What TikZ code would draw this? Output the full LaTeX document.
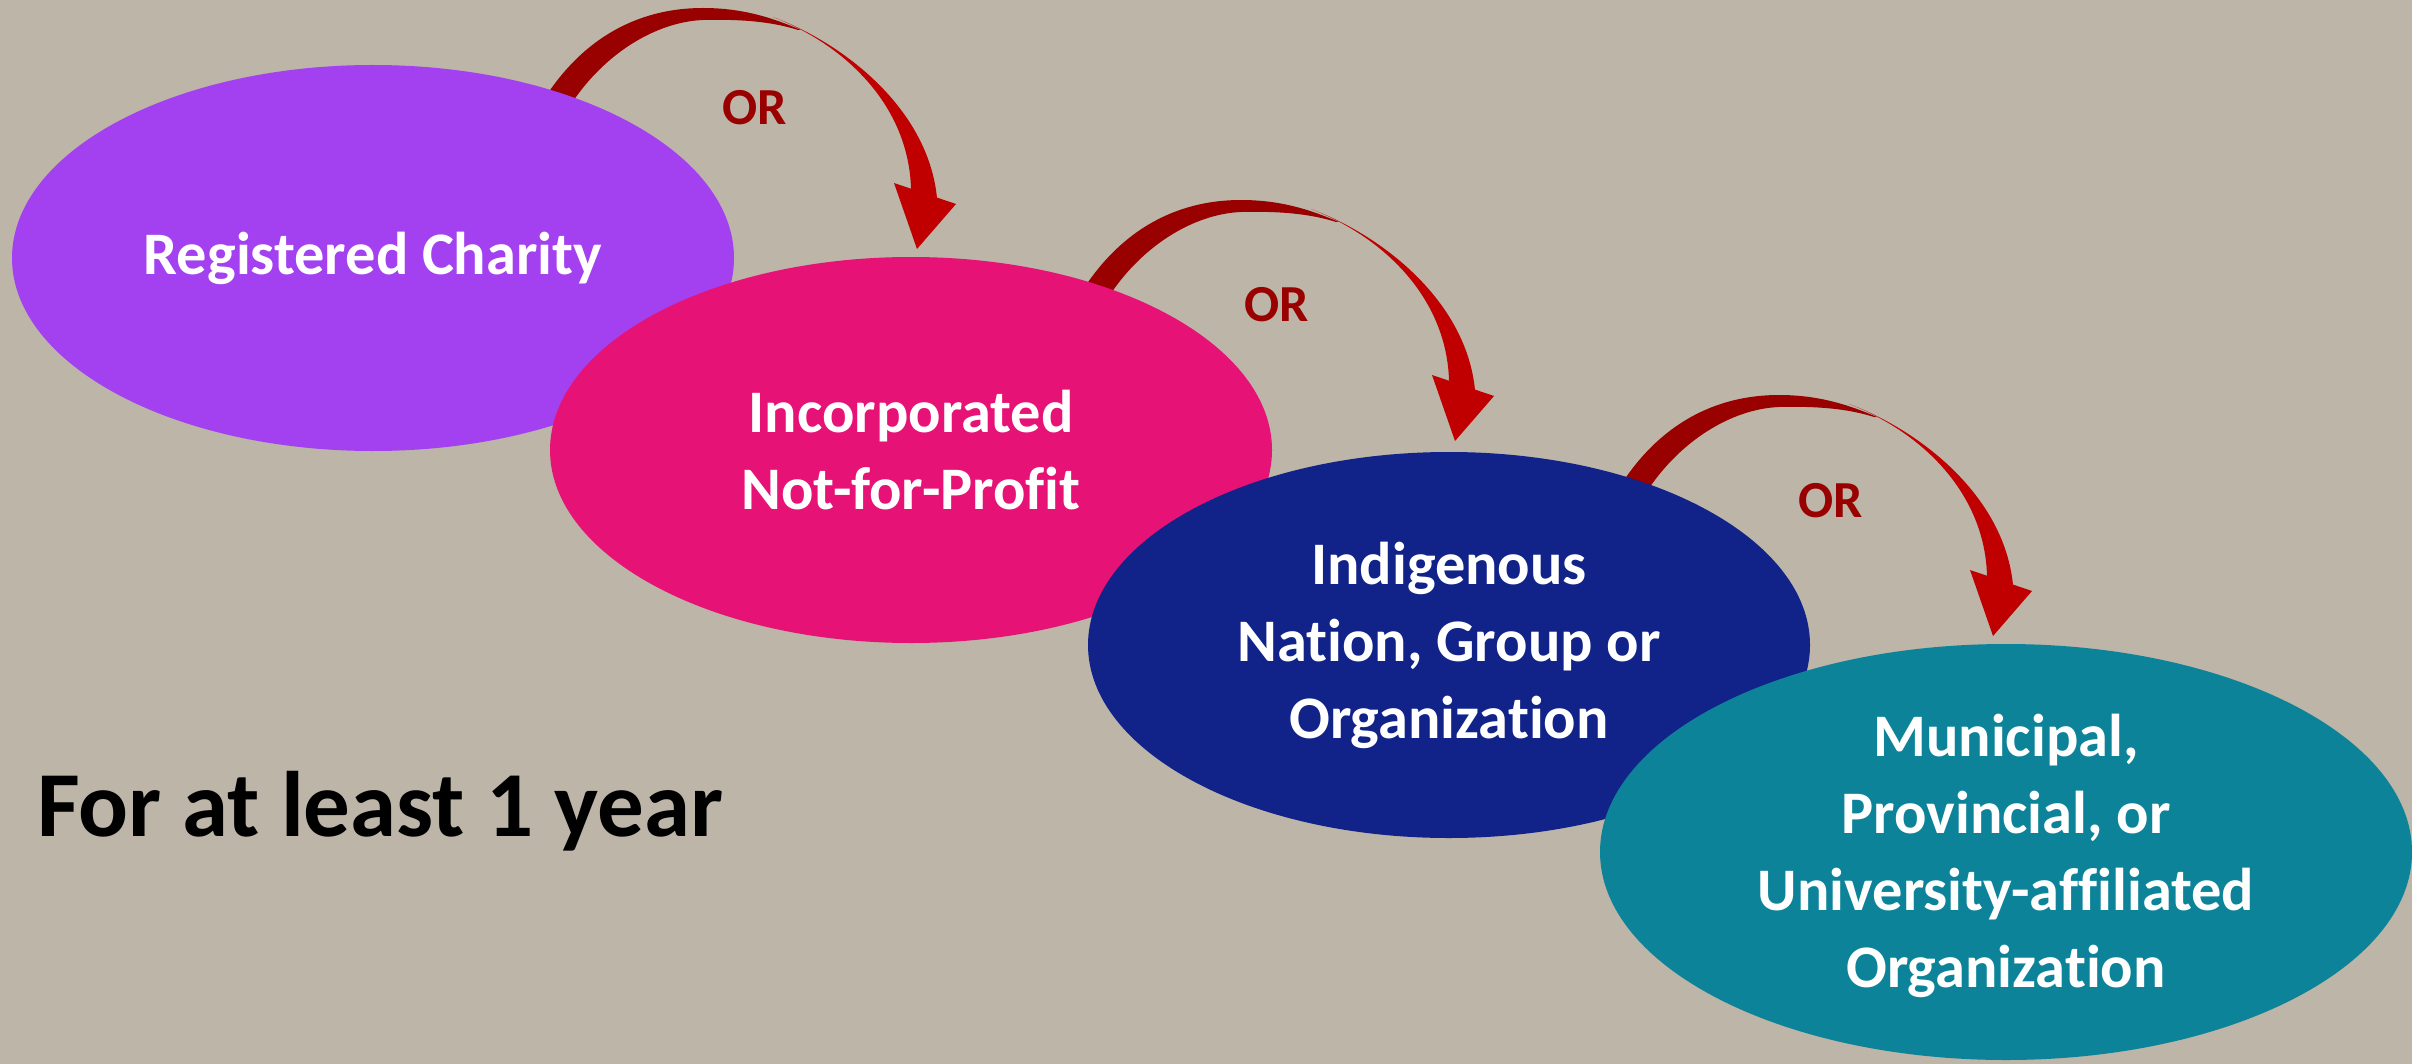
\documentclass[tikz,border=0pt]{standalone}
\usepackage{fontspec}
\setmainfont{Carlito}[Ligatures=NoCommon]
\usetikzlibrary{shapes.geometric}

\definecolor{paper}{RGB}{188,181,168}
\definecolor{charity}{RGB}{163,64,240}
\definecolor{nfp}{RGB}{230,18,118}
\definecolor{indig}{RGB}{17,34,137}
\definecolor{muni}{RGB}{12,131,153}
\definecolor{ribbonback}{RGB}{153,0,0}
\definecolor{ribbonfront}{RGB}{192,0,0}

\begin{document}
\begin{tikzpicture}[x=0.5pt,y=-0.5pt,
  blob/.style={ellipse, draw=none, inner sep=0pt, minimum width=361pt, minimum height=193pt},
  bigblob/.style={blob, minimum width=406pt, minimum height=208pt},
  lbl/.style={text=white, align=center, font=\fontsize{30.2}{38.5}\selectfont\bfseries},
  ortext/.style={text=ribbonback, font=\fontsize{26}{30}\selectfont\bfseries},
  % curved "or" arrow, drawn relative to the centre of the shape it leaves
  orarrow/.pic={
    % back side of the ribbon
    \fill[ribbonback]
      (160,-140) .. controls (200,-215) and (260,-250) .. (330,-250)
      .. controls (370,-250) and (400,-240) .. (428,-228)
      -- (425,-228) .. controls (400,-236) and (370,-239) .. (330,-238)
      .. controls (280,-236) and (222,-200) .. (188,-137) -- cycle;
    % front side of the ribbon
    \fill[ribbonfront]
      (400,-241) .. controls (470,-215) and (555,-150) .. (564,-60)
      -- (538,-69) .. controls (536,-150) and (475,-212) .. (400,-241) -- cycle;
    % head
    \fill[ribbonfront] (521,-75) -- (583,-54) -- (544,-9) -- cycle;
  }]

% background
\fill[paper] (0,0) rectangle (2412,1064);
\useasboundingbox (0,0) rectangle (2412,1064);

% arrows sit behind the shapes
\pic at (373,258) {orarrow};
\pic at (911,450) {orarrow};
\pic at (1449,645) {orarrow};

% shapes
\node[blob, fill=charity] (e1) at (373,258) {};
\node[blob, fill=nfp] (e2) at (911,450) {};
\node[blob, fill=indig] (e3) at (1449,645) {};
\node[bigblob, fill=muni] (e4) at (2006,852) {};

% labels
\node[lbl] (t1) at (e1.center) {Registered Charity};
\node[lbl] (t2) at (e2.center) {Incorporated\\Not-for-Profit};
\node[lbl] (t3) at (e3.center) {Indigenous\\Nation, Group or\\Organization};
\node[lbl] (t4) at ([yshift=-2pt]e4.center) {Municipal,\\Provincial, or\\University-affiliated\\Organization};

\node[ortext] (or1) at (755,108) {OR};
\node[ortext] (or2) at (1277,305) {OR};
\node[ortext] (or3) at (1831,501) {OR};

\node[text=black, font=\fontsize{46.5}{56}\selectfont\bfseries] (span) at (380,811) {For at least 1 year};
\end{tikzpicture}
\end{document}
